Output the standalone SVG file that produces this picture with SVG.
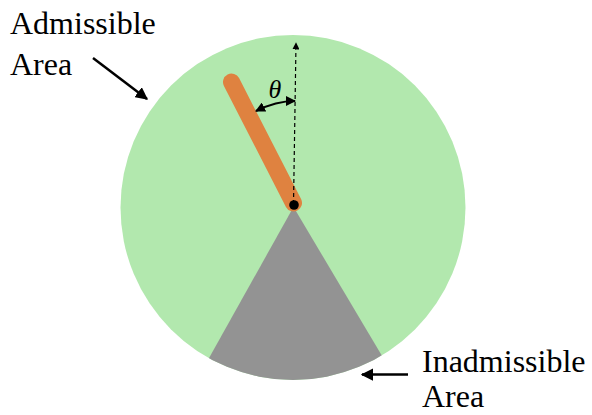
<svg xmlns="http://www.w3.org/2000/svg" width="592" height="415" viewBox="0 0 592 415">
  <style>
    .lbl { font-size: 32px; fill: #000; }
    .theta { font-style: italic; font-size: 26px; fill: #000; }
    .conn { stroke: #000; fill: none; }
  </style>
  <defs>
    <marker id="ah" viewBox="0 0 10 10" refX="9" refY="5" markerWidth="5" markerHeight="5" orient="auto-start-reverse" markerUnits="strokeWidth">
      <path d="M0,0 L10,5 L0,10 z" fill="#000"/>
    </marker>
    <marker id="ahs" viewBox="0 0 10 10" refX="9" refY="5" markerWidth="6" markerHeight="6" orient="auto-start-reverse" markerUnits="strokeWidth">
      <path d="M0,0 L10,5 L0,10 z" fill="#000"/>
    </marker>
    <clipPath id="disc">
      <circle cx="293" cy="207.5" r="172.5"/>
    </clipPath>
  </defs>
  <rect width="592" height="415" fill="#fff"/>
  <g id="admissible-area">
    <circle cx="293" cy="207.5" r="172.5" fill="#B2E8AE"/>
  </g>
  <g id="inadmissible-area">
    <polygon points="293.5,207 185.9,399.4 410.2,403.3" fill="#939393" clip-path="url(#disc)"/>
  </g>
  <g id="rod">
    <line x1="231.5" y1="82" x2="293.5" y2="203" stroke="#DF8240" stroke-width="17" stroke-linecap="round"/>
  </g>
  <g id="connectors">
    <line class="conn" x1="293.5" y1="204" x2="296" y2="43" stroke-width="1.2" stroke-dasharray="4,3" marker-end="url(#ahs)"/>
    <path class="conn" d="M256,111 Q276,101 295,101" stroke-width="2" marker-start="url(#ah)" marker-end="url(#ah)"/>
    <line class="conn" x1="93" y1="58" x2="147" y2="99" stroke-width="2.5" marker-end="url(#ah)"/>
    <line class="conn" x1="408" y1="374.5" x2="362" y2="374.5" stroke-width="2.5" marker-end="url(#ah)"/>
  </g>
  <g id="pivot">
    <circle cx="294" cy="205" r="4.8" fill="#000"/>
  </g>
  <g id="theta-label" font-family="Liberation Serif, serif">
    <text class="theta" x="275" y="98" text-anchor="middle">θ</text>
  </g>
  <g id="admissible-label" font-family="Liberation Serif, serif">
    <text class="lbl" x="10" y="34">Admissible</text>
    <text class="lbl" x="10" y="75">Area</text>
  </g>
  <g id="inadmissible-label" font-family="Liberation Serif, serif">
    <text class="lbl" x="422" y="372">Inadmissible</text>
    <text class="lbl" x="422" y="407">Area</text>
  </g>
</svg>
